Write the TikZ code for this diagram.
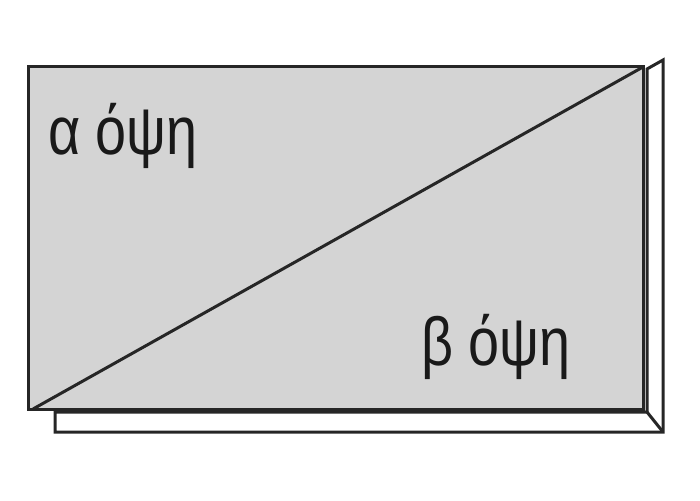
\documentclass[tikz,border=0pt]{standalone}
\usepackage{fontspec}
\setmainfont[FakeStretch=0.82]{Liberation Sans}
\definecolor{panelgray}{RGB}{212,212,212}

\begin{document}
\begin{tikzpicture}[x=1pt,y=-1pt,line join=miter,
  edge/.style={draw=black!85,line width=3pt},
  view/.style={anchor=base west,inner sep=0pt,text=black!90,font=\fontsize{68}{72}\selectfont}]
\useasboundingbox (0,0) rectangle (700,500);
% corners of the front face
\coordinate (tl) at (28,67);
\coordinate (tr) at (643,67);
\coordinate (bl) at (28,409);
\coordinate (br) at (643,409);
% edges of the side and bottom strips
\coordinate (si) at (647,69);
\coordinate (st) at (663,60);
\coordinate (sb) at (663,432);
\coordinate (bi) at (647,412);
\coordinate (bo) at (55,432);
\coordinate (bt) at (55,412);

\path[edge,fill=white] (si) -- (st) -- (sb) -- (bo) -- (bt) -- (bi) -- cycle;
\draw[edge] (bi) -- (sb);
\path[edge,fill=panelgray] (tl) rectangle (br);
\draw[edge] ([xshift=5pt]bl) -- (tr);

\node[view] (alpha) at (48,154) {α όψη};
\node[view] (beta) at (421,365) {β όψη};
\end{tikzpicture}
\end{document}
